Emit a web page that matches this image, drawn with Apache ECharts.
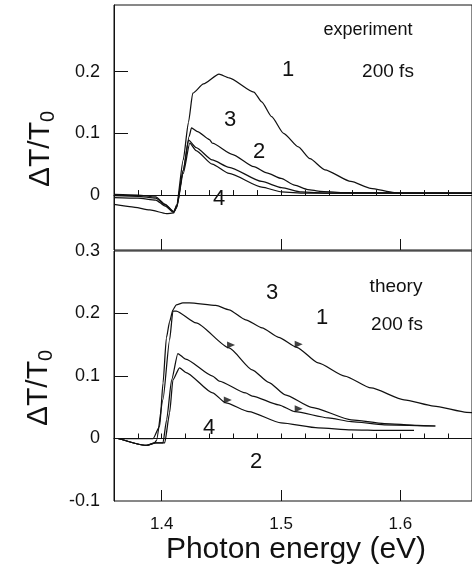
<!DOCTYPE html>
<html>
<head>
<meta charset="utf-8">
<script src="https://cdn.jsdelivr.net/npm/echarts@6/dist/echarts.min.js"></script>
<style>
  html, body { margin: 0; padding: 0; background: #fff; }
  #chart { width: 472px; height: 566px; }
</style>
</head>
<body>
<div id="chart"></div>
<script>
// Photon energy (eV) and ΔT/T0 pairs, 200 fs pump-probe spectra.
const expCurve1 = [[1.360,-0.015],[1.375,-0.019],[1.390,-0.024],[1.404,-0.030],[1.410,-0.029],[1.4125,-0.016],[1.418,0.057],[1.4224,0.118],[1.4260,0.165],[1.435,0.180],[1.448,0.196],[1.4564,0.190],[1.4772,0.167],[1.4838,0.151],[1.4921,0.127],[1.5021,0.100],[1.5145,0.078],[1.5242,0.059],[1.5367,0.041],[1.5585,0.022],[1.5751,0.011],[1.5948,0.004],[1.600,0.003],[1.660,0.003]];
const expCurve2 = [[1.360,0.001],[1.380,0.000],[1.395,-0.003],[1.403,-0.015],[1.410,-0.027],[1.4125,-0.020],[1.418,0.040],[1.4230,0.095],[1.4249,0.109],[1.430,0.103],[1.440,0.090],[1.4424,0.084],[1.4590,0.066],[1.4772,0.046],[1.488,0.036],[1.500,0.027],[1.5113,0.016],[1.5224,0.009],[1.533,0.006],[1.550,0.004],[1.660,0.003]];
const expCurve3 = [[1.360,-0.001],[1.380,-0.002],[1.395,-0.005],[1.403,-0.016],[1.410,-0.027],[1.4125,-0.018],[1.418,0.040],[1.4225,0.089],[1.4288,0.077],[1.4423,0.057],[1.4564,0.045],[1.4838,0.022],[1.5004,0.012],[1.517,0.005],[1.540,0.003],[1.660,0.003]];
const expCurve4 = [[1.360,-0.004],[1.380,-0.005],[1.395,-0.008],[1.403,-0.018],[1.410,-0.028],[1.4125,-0.020],[1.418,0.035],[1.4235,0.084],[1.4288,0.072],[1.4423,0.050],[1.4564,0.035],[1.4838,0.013],[1.5004,0.005],[1.520,0.003],[1.660,0.003]];

const thCurveA = [[1.3635,0.000],[1.3928,0.000],[1.3983,0.020],[1.4011,0.089],[1.4039,0.161],[1.4066,0.187],[1.4094,0.206],[1.4122,0.214],[1.4177,0.217],[1.4232,0.217],[1.4454,0.213],[1.4564,0.206],[1.4703,0.190],[1.4841,0.177],[1.4979,0.162],[1.5131,0.146],[1.5311,0.121],[1.5533,0.100],[1.5754,0.081],[1.6031,0.062],[1.6280,0.052],[1.6556,0.042],[1.670,0.039]];
const thCurveB = [[1.3635,0.000],[1.3872,-0.011],[1.394,-0.007],[1.3956,-0.003],[1.401,0.062],[1.4066,0.158],[1.4094,0.204],[1.4122,0.204],[1.4288,0.185],[1.4564,0.145],[1.4758,0.110],[1.4896,0.090],[1.5035,0.070],[1.5256,0.050],[1.5588,0.030],[1.5865,0.024],[1.6141,0.021],[1.6293,0.020]];
const thCurveC = [[1.3635,0.000],[1.3872,-0.011],[1.395,-0.007],[1.401,-0.007],[1.4041,0.030],[1.4083,0.094],[1.4135,0.136],[1.420,0.127],[1.4426,0.100],[1.4481,0.092],[1.4703,0.073],[1.4758,0.068],[1.4979,0.054],[1.5118,0.043],[1.5394,0.033],[1.5588,0.027],[1.5865,0.022],[1.6293,0.020]];
const thCurveD = [[1.3635,0.000],[1.3872,-0.011],[1.395,-0.007],[1.4025,-0.007],[1.4066,0.041],[1.4094,0.094],[1.4149,0.113],[1.420,0.106],[1.4426,0.073],[1.4537,0.057],[1.4730,0.043],[1.500,0.025],[1.5311,0.017],[1.5588,0.014],[1.5865,0.013],[1.6114,0.013]];

// arrowheads drawn on the theory curves
const thArrows = [[1.4564,0.145],[1.5131,0.146],[1.4537,0.057],[1.5131,0.043]];

const energyLabels = [1.4, 1.5, 1.6];
const energyMinorTicks = [1.38,1.40,1.42,1.44,1.46,1.48,1.50,1.52,1.54,1.56,1.58,1.60,1.62,1.64];
const signalLabels = [0, 0.1, 0.2];
const theoryLabels = [-0.1, 0, 0.1, 0.2, 0.3];

const FONT = 'Liberation Sans, Arial, sans-serif';
const INK = '#111';

const chart = echarts.init(document.getElementById('chart'));

function xAxes(gridIndex, withLabels) {
  return [
    {
      type: 'value', gridIndex, min: 1.36, max: 1.66,
      axisLine: { show: true, lineStyle: { color: INK, width: 1 } },
      axisTick: { show: true, inside: true, length: 5, customValues: energyMinorTicks, lineStyle: { color: INK } },
      axisLabel: withLabels ? {
        show: true, customValues: energyLabels, margin: 15,
        fontFamily: FONT, fontSize: 17, color: INK,
        formatter: v => v.toFixed(1)
      } : { show: false },
      splitLine: { show: false }
    },
    {
      type: 'value', gridIndex, min: 1.36, max: 1.66, position: 'bottom',
      axisLine: { show: false },
      axisTick: { show: true, inside: true, length: 11, customValues: energyLabels, lineStyle: { color: INK } },
      axisLabel: { show: false },
      splitLine: { show: false }
    }
  ];
}

function lineSeries(data, xAxisIndex, yAxisIndex) {
  return {
    type: 'line', data, xAxisIndex, yAxisIndex,
    showSymbol: false, smooth: 0.2, smoothMonotone: 'x',
    lineStyle: { color: INK, width: 1.25 },
    silent: true, animation: false, clip: true
  };
}

const subTitle = (x, y) => ({
  type: 'text', x, y, rotation: Math.PI / 2,
  style: {
    text: '{a|ΔT/T}{b|0}',
    align: 'center', verticalAlign: 'middle',
    fill: INK,
    rich: {
      a: { fontFamily: FONT, fontSize: 30, fill: INK, verticalAlign: 'middle', lineHeight: 34 },
      b: { fontFamily: FONT, fontSize: 20, fill: INK, verticalAlign: 'bottom', lineHeight: 34, padding: [14, 0, 0, 0] }
    }
  }
});

const note = (text, x, y, size) => ({
  type: 'text', x, y,
  style: { text, fontFamily: FONT, fontSize: size, fill: INK, align: 'center', verticalAlign: 'middle' }
});

chart.setOption({
  backgroundColor: '#fff',
  animation: false,
  grid: [
    { left: 114, top: 5, width: 362, height: 245, show: true, borderColor: INK, borderWidth: 1, backgroundColor: 'transparent' },
    { left: 114, top: 251, width: 362, height: 250, show: true, borderColor: INK, borderWidth: 1, backgroundColor: 'transparent' }
  ],
  xAxis: [...xAxes(0, false), ...xAxes(1, true)],
  yAxis: [
    {
      type: 'value', gridIndex: 0, min: -0.089, max: 0.308,
      axisLine: { show: true, lineStyle: { color: INK } },
      axisTick: { show: true, inside: true, length: 14, customValues: signalLabels, lineStyle: { color: INK } },
      axisLabel: { show: true, customValues: signalLabels, margin: 14, fontFamily: FONT, fontSize: 18, color: INK, formatter: v => String(+v.toFixed(1)) },
      splitLine: { show: false }
    },
    {
      type: 'value', gridIndex: 1, min: -0.1, max: 0.3,
      axisLine: { show: true, lineStyle: { color: INK } },
      axisTick: { show: true, inside: true, length: 14, customValues: [0, 0.1, 0.2], lineStyle: { color: INK } },
      axisLabel: { show: true, customValues: theoryLabels, margin: 14, fontFamily: FONT, fontSize: 18, color: INK, formatter: v => String(+v.toFixed(1)) },
      splitLine: { show: false }
    }
  ],
  series: [
    lineSeries(expCurve1, 0, 0),
    lineSeries(expCurve2, 0, 0),
    lineSeries(expCurve3, 0, 0),
    lineSeries(expCurve4, 0, 0),
    lineSeries(thCurveA, 2, 1),
    lineSeries(thCurveB, 2, 1),
    lineSeries(thCurveC, 2, 1),
    lineSeries(thCurveD, 2, 1),
    {
      type: 'scatter', data: thArrows, xAxisIndex: 2, yAxisIndex: 1,
      symbol: 'triangle', symbolSize: [7, 8], symbolRotate: -90, symbolOffset: [2, -3],
      itemStyle: { color: INK }, silent: true, animation: false
    }
  ],
  graphic: [
    subTitle(41, 149),
    subTitle(39, 388),
    {
      type: 'text', x: 296, y: 550,
      style: { text: 'Photon energy (eV)', fontFamily: FONT, fontSize: 30, fill: INK, align: 'center', verticalAlign: 'middle' }
    },
    note('experiment', 368, 30, 18),
    note('200 fs', 388, 72, 19),
    note('1', 288, 70, 22),
    note('3', 230, 120, 22),
    note('2', 259, 152, 22),
    note('4', 219, 199, 22),
    note('theory', 396, 287, 19),
    note('200 fs', 397, 325, 19),
    note('3', 272, 293, 22),
    note('1', 322, 318, 22),
    note('4', 209, 428, 22),
    note('2', 256, 462, 22)
  ]
});
</script>
</body>
</html>
